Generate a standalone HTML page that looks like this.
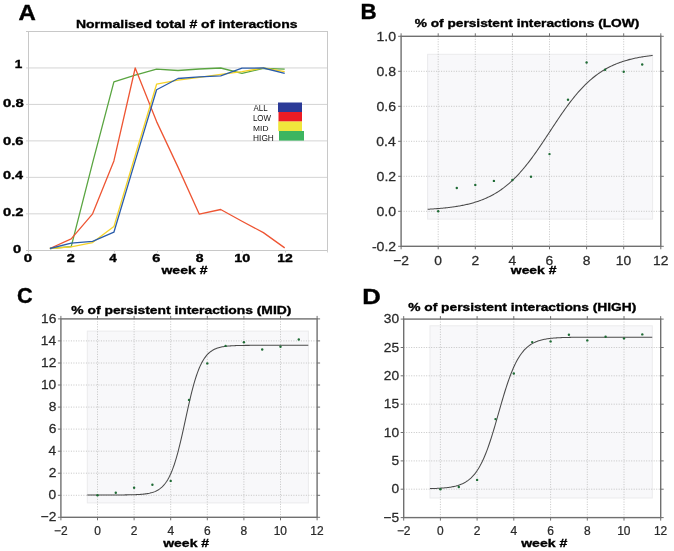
<!DOCTYPE html>
<html><head><meta charset="utf-8"><style>
html,body{margin:0;padding:0;background:#fff;}
svg{display:block;font-family:"Liberation Sans",sans-serif;will-change:transform;}
</style></head><body>
<svg width="674" height="551" viewBox="0 0 674 551">
<rect width="674" height="551" fill="#fff"/>
<g>
<line x1="26" y1="213.83" x2="327.5" y2="213.83" stroke="#d4d4d4" stroke-width="1"/>
<line x1="26" y1="177.36" x2="327.5" y2="177.36" stroke="#d4d4d4" stroke-width="1"/>
<line x1="26" y1="140.89" x2="327.5" y2="140.89" stroke="#d4d4d4" stroke-width="1"/>
<line x1="26" y1="104.42" x2="327.5" y2="104.42" stroke="#d4d4d4" stroke-width="1"/>
<line x1="26" y1="67.95" x2="327.5" y2="67.95" stroke="#d4d4d4" stroke-width="1"/>
<rect x="28.5" y="31.5" width="299.0" height="219.0" fill="none" stroke="#c8c8c8" stroke-width="1"/>
<line x1="26" y1="31.5" x2="28.5" y2="31.5" stroke="#c8c8c8" stroke-width="1"/>
<line x1="26" y1="250.5" x2="28.5" y2="250.5" stroke="#c8c8c8" stroke-width="1"/>
<line x1="28.5" y1="250.5" x2="28.5" y2="252.5" stroke="#d0d0d0" stroke-width="1"/>
<line x1="71.5" y1="250.5" x2="71.5" y2="252.5" stroke="#d0d0d0" stroke-width="1"/>
<line x1="114.5" y1="250.5" x2="114.5" y2="252.5" stroke="#d0d0d0" stroke-width="1"/>
<line x1="157.5" y1="250.5" x2="157.5" y2="252.5" stroke="#d0d0d0" stroke-width="1"/>
<line x1="199.5" y1="250.5" x2="199.5" y2="252.5" stroke="#d0d0d0" stroke-width="1"/>
<line x1="242.5" y1="250.5" x2="242.5" y2="252.5" stroke="#d0d0d0" stroke-width="1"/>
<line x1="285.5" y1="250.5" x2="285.5" y2="252.5" stroke="#d0d0d0" stroke-width="1"/>
<line x1="327.5" y1="250.5" x2="327.5" y2="252.5" stroke="#d0d0d0" stroke-width="1"/>
<polyline points="49.9,248.5 71.2,246.7 92.6,162.8 113.9,81.8 135.2,75.2 156.6,69.2 178.0,70.5 199.3,69.0 220.7,68.0 242.0,73.4 263.4,68.3 284.7,69.2" fill="none" stroke="#5aa541" stroke-width="1.3" stroke-linejoin="round"/>
<polyline points="49.9,248.5 71.2,238.8 92.6,213.8 113.9,160.9 135.2,68.0 156.6,121.6 178.0,167.1 199.3,214.2 220.7,209.5 242.0,221.3 263.4,232.6 284.7,247.9" fill="none" stroke="#ee5533" stroke-width="1.3" stroke-linejoin="round"/>
<polyline points="49.9,248.5 71.2,246.8 92.6,242.6 113.9,226.6 135.2,155.5 156.6,84.2 178.0,80.2 199.3,77.4 220.7,74.3 242.0,71.6 263.4,68.0 284.7,71.6" fill="none" stroke="#f5d328" stroke-width="1.3" stroke-linejoin="round"/>
<polyline points="49.9,248.5 71.2,243.2 92.6,241.4 113.9,232.2 135.2,160.9 156.6,89.8 178.0,78.5 199.3,76.9 220.7,75.8 242.0,68.1 263.4,68.0 284.7,73.4" fill="none" stroke="#2a5caa" stroke-width="1.3" stroke-linejoin="round"/>
<rect x="278" y="102.5" width="24" height="9.6" fill="#2b3a97"/>
<rect x="278.5" y="112" width="23.5" height="9.6" fill="#ec1c24"/>
<rect x="278.2" y="121.5" width="23.80000000000001" height="9.6" fill="#f0e63c"/>
<rect x="279" y="131" width="25" height="9.6" fill="#3db560"/>
<text transform="translate(253.48,110.80) scale(0.939,1)" font-size="8.44" fill="#111">ALL</text>
<text transform="translate(252.95,120.50) scale(0.954,1)" font-size="8.32" fill="#111">LOW</text>
<text transform="translate(253.11,130.50) scale(1.069,1)" font-size="7.85" fill="#111">MID</text>
<text transform="translate(253.11,140.70) scale(0.935,1)" font-size="8.89" fill="#111">HIGH</text>
<text transform="translate(14.65,67.70) scale(1.294,1)" font-size="10.47" font-weight="bold" fill="#000" stroke="#000" stroke-width="0.35">1</text>
<text transform="translate(3.00,106.80) scale(1.426,1)" font-size="10.47" font-weight="bold" fill="#000" stroke="#000" stroke-width="0.35">0.8</text>
<text transform="translate(3.01,145.40) scale(1.336,1)" font-size="11.04" font-weight="bold" fill="#000" stroke="#000" stroke-width="0.35">0.6</text>
<text transform="translate(3.02,179.00) scale(1.258,1)" font-size="11.47" font-weight="bold" fill="#000" stroke="#000" stroke-width="0.35">0.4</text>
<text transform="translate(3.01,216.00) scale(1.291,1)" font-size="11.47" font-weight="bold" fill="#000" stroke="#000" stroke-width="0.35">0.2</text>
<text transform="translate(13.01,253.00) scale(1.285,1)" font-size="11.47" font-weight="bold" fill="#000" stroke="#000" stroke-width="0.35">0</text>
<text transform="translate(23.75,262.00) scale(1.390,1)" font-size="10.75" font-weight="bold" fill="#000" stroke="#000" stroke-width="0.35">0</text>
<text transform="translate(66.69,262.00) scale(1.356,1)" font-size="10.75" font-weight="bold" fill="#000" stroke="#000" stroke-width="0.35">2</text>
<text transform="translate(109.30,262.00) scale(1.234,1)" font-size="10.91" font-weight="bold" fill="#000" stroke="#000" stroke-width="0.35">4</text>
<text transform="translate(152.36,262.00) scale(1.349,1)" font-size="10.75" font-weight="bold" fill="#000" stroke="#000" stroke-width="0.35">6</text>
<text transform="translate(195.69,262.00) scale(1.303,1)" font-size="10.75" font-weight="bold" fill="#000" stroke="#000" stroke-width="0.35">8</text>
<text transform="translate(234.35,262.00) scale(1.338,1)" font-size="10.75" font-weight="bold" fill="#000" stroke="#000" stroke-width="0.35">10</text>
<text transform="translate(277.28,262.00) scale(1.302,1)" font-size="10.75" font-weight="bold" fill="#000" stroke="#000" stroke-width="0.35">12</text>
<text transform="translate(161.44,273.70) scale(1.243,1)" font-size="11.30" font-weight="bold" fill="#000" stroke="#000" stroke-width="0.35">week #</text>
<text transform="translate(75.96,28.00) scale(1.233,1)" font-size="11.35" font-weight="bold" fill="#000" stroke="#000" stroke-width="0.35">Normalised total # of interactions</text>
<text transform="translate(18.50,20.20) scale(1.080,1)" font-size="22.25" font-weight="bold" fill="#000" stroke="#000" stroke-width="0.4">A</text>
</g>
<rect x="427.6" y="54.3" width="225.0" height="164.8" fill="#f8f8fa" stroke="#ebebed" stroke-width="1"/>
<line x1="438.2" y1="36.3" x2="438.2" y2="246.3" stroke="#bebebe" stroke-width="0.9" stroke-dasharray="1 1.5"/>
<line x1="475.3" y1="36.3" x2="475.3" y2="246.3" stroke="#bebebe" stroke-width="0.9" stroke-dasharray="1 1.5"/>
<line x1="512.4" y1="36.3" x2="512.4" y2="246.3" stroke="#bebebe" stroke-width="0.9" stroke-dasharray="1 1.5"/>
<line x1="549.5" y1="36.3" x2="549.5" y2="246.3" stroke="#bebebe" stroke-width="0.9" stroke-dasharray="1 1.5"/>
<line x1="586.6" y1="36.3" x2="586.6" y2="246.3" stroke="#bebebe" stroke-width="0.9" stroke-dasharray="1 1.5"/>
<line x1="623.7" y1="36.3" x2="623.7" y2="246.3" stroke="#bebebe" stroke-width="0.9" stroke-dasharray="1 1.5"/>
<line x1="401.1" y1="211.3" x2="660.8" y2="211.3" stroke="#bebebe" stroke-width="0.9" stroke-dasharray="1 1.5"/>
<line x1="401.1" y1="176.3" x2="660.8" y2="176.3" stroke="#bebebe" stroke-width="0.9" stroke-dasharray="1 1.5"/>
<line x1="401.1" y1="141.3" x2="660.8" y2="141.3" stroke="#bebebe" stroke-width="0.9" stroke-dasharray="1 1.5"/>
<line x1="401.1" y1="106.3" x2="660.8" y2="106.3" stroke="#bebebe" stroke-width="0.9" stroke-dasharray="1 1.5"/>
<line x1="401.1" y1="71.3" x2="660.8" y2="71.3" stroke="#bebebe" stroke-width="0.9" stroke-dasharray="1 1.5"/>
<polyline points="427.63,209.25 428.57,209.20 429.51,209.15 430.45,209.09 431.39,209.03 432.33,208.97 433.28,208.91 434.22,208.85 435.16,208.78 436.10,208.71 437.04,208.64 437.98,208.57 438.92,208.49 439.87,208.41 440.81,208.33 441.75,208.24 442.69,208.15 443.63,208.06 444.57,207.97 445.51,207.87 446.46,207.77 447.40,207.66 448.34,207.56 449.28,207.44 450.22,207.33 451.16,207.21 452.10,207.08 453.05,206.95 453.99,206.82 454.93,206.68 455.87,206.54 456.81,206.39 457.75,206.23 458.70,206.07 459.64,205.91 460.58,205.74 461.52,205.56 462.46,205.38 463.40,205.19 464.34,205.00 465.29,204.80 466.23,204.59 467.17,204.37 468.11,204.15 469.05,203.92 469.99,203.68 470.93,203.44 471.88,203.18 472.82,202.92 473.76,202.65 474.70,202.37 475.64,202.08 476.58,201.78 477.52,201.47 478.47,201.15 479.41,200.82 480.35,200.48 481.29,200.13 482.23,199.77 483.17,199.39 484.11,199.01 485.06,198.61 486.00,198.20 486.94,197.78 487.88,197.34 488.82,196.89 489.76,196.43 490.71,195.95 491.65,195.46 492.59,194.96 493.53,194.44 494.47,193.90 495.41,193.35 496.35,192.78 497.30,192.20 498.24,191.60 499.18,190.99 500.12,190.35 501.06,189.70 502.00,189.03 502.94,188.35 503.89,187.65 504.83,186.92 505.77,186.18 506.71,185.42 507.65,184.64 508.59,183.85 509.53,183.03 510.48,182.19 511.42,181.34 512.36,180.46 513.30,179.57 514.24,178.65 515.18,177.72 516.12,176.76 517.07,175.78 518.01,174.79 518.95,173.77 519.89,172.74 520.83,171.68 521.77,170.61 522.72,169.52 523.66,168.40 524.60,167.27 525.54,166.12 526.48,164.95 527.42,163.76 528.36,162.56 529.31,161.34 530.25,160.10 531.19,158.85 532.13,157.57 533.07,156.29 534.01,154.99 534.95,153.67 535.90,152.35 536.84,151.01 537.78,149.65 538.72,148.29 539.66,146.91 540.60,145.53 541.54,144.14 542.49,142.74 543.43,141.33 544.37,139.91 545.31,138.49 546.25,137.07 547.19,135.64 548.13,134.21 549.08,132.78 550.02,131.35 550.96,129.91 551.90,128.48 552.84,127.05 553.78,125.63 554.73,124.20 555.67,122.78 556.61,121.37 557.55,119.97 558.49,118.57 559.43,117.18 560.37,115.80 561.32,114.42 562.26,113.06 563.20,111.72 564.14,110.38 565.08,109.05 566.02,107.74 566.96,106.45 567.91,105.17 568.85,103.90 569.79,102.65 570.73,101.42 571.67,100.20 572.61,99.00 573.55,97.82 574.50,96.66 575.44,95.51 576.38,94.39 577.32,93.28 578.26,92.19 579.20,91.13 580.14,90.08 581.09,89.05 582.03,88.04 582.97,87.05 583.91,86.08 584.85,85.13 585.79,84.20 586.74,83.29 587.68,82.40 588.62,81.53 589.56,80.68 590.50,79.85 591.44,79.04 592.38,78.25 593.33,77.48 594.27,76.72 595.21,75.99 596.15,75.27 597.09,74.58 598.03,73.90 598.97,73.23 599.92,72.59 600.86,71.96 601.80,71.35 602.74,70.75 603.68,70.18 604.62,69.62 605.56,69.07 606.51,68.54 607.45,68.02 608.39,67.52 609.33,67.04 610.27,66.56 611.21,66.10 612.15,65.66 613.10,65.23 614.04,64.81 614.98,64.40 615.92,64.01 616.86,63.63 617.80,63.26 618.75,62.90 619.69,62.55 620.63,62.22 621.57,61.89 622.51,61.57 623.45,61.27 624.39,60.97 625.34,60.68 626.28,60.41 627.22,60.14 628.16,59.88 629.10,59.63 630.04,59.38 630.98,59.15 631.93,58.92 632.87,58.70 633.81,58.49 634.75,58.28 635.69,58.08 636.63,57.89 637.57,57.70 638.52,57.52 639.46,57.35 640.40,57.18 641.34,57.01 642.28,56.86 643.22,56.71 644.16,56.56 645.11,56.42 646.05,56.28 646.99,56.15 647.93,56.02 648.87,55.90 649.81,55.78 650.76,55.66 651.70,55.55 652.64,55.44" fill="none" stroke="#4a4a4a" stroke-width="1.05"/>
<circle cx="438.2" cy="211.3" r="1.2" fill="#1f6b35"/>
<circle cx="456.8" cy="188.0" r="1.2" fill="#1f6b35"/>
<circle cx="475.3" cy="184.9" r="1.2" fill="#1f6b35"/>
<circle cx="493.9" cy="180.9" r="1.2" fill="#1f6b35"/>
<circle cx="512.4" cy="180.0" r="1.2" fill="#1f6b35"/>
<circle cx="531.0" cy="176.7" r="1.2" fill="#1f6b35"/>
<circle cx="549.5" cy="154.1" r="1.2" fill="#1f6b35"/>
<circle cx="568.0" cy="99.8" r="1.2" fill="#1f6b35"/>
<circle cx="586.6" cy="62.5" r="1.2" fill="#1f6b35"/>
<circle cx="605.1" cy="69.7" r="1.2" fill="#1f6b35"/>
<circle cx="623.7" cy="71.8" r="1.2" fill="#1f6b35"/>
<circle cx="642.2" cy="64.5" r="1.2" fill="#1f6b35"/>
<rect x="401.1" y="36.3" width="259.7" height="210.0" fill="none" stroke="#707070" stroke-width="1.4"/>
<line x1="401.1" y1="246.3" x2="401.1" y2="249.3" stroke="#707070" stroke-width="1"/>
<line x1="401.1" y1="36.3" x2="401.1" y2="33.3" stroke="#707070" stroke-width="1"/>
<line x1="438.2" y1="246.3" x2="438.2" y2="249.3" stroke="#707070" stroke-width="1"/>
<line x1="438.2" y1="36.3" x2="438.2" y2="33.3" stroke="#707070" stroke-width="1"/>
<line x1="475.3" y1="246.3" x2="475.3" y2="249.3" stroke="#707070" stroke-width="1"/>
<line x1="475.3" y1="36.3" x2="475.3" y2="33.3" stroke="#707070" stroke-width="1"/>
<line x1="512.4" y1="246.3" x2="512.4" y2="249.3" stroke="#707070" stroke-width="1"/>
<line x1="512.4" y1="36.3" x2="512.4" y2="33.3" stroke="#707070" stroke-width="1"/>
<line x1="549.5" y1="246.3" x2="549.5" y2="249.3" stroke="#707070" stroke-width="1"/>
<line x1="549.5" y1="36.3" x2="549.5" y2="33.3" stroke="#707070" stroke-width="1"/>
<line x1="586.6" y1="246.3" x2="586.6" y2="249.3" stroke="#707070" stroke-width="1"/>
<line x1="586.6" y1="36.3" x2="586.6" y2="33.3" stroke="#707070" stroke-width="1"/>
<line x1="623.7" y1="246.3" x2="623.7" y2="249.3" stroke="#707070" stroke-width="1"/>
<line x1="623.7" y1="36.3" x2="623.7" y2="33.3" stroke="#707070" stroke-width="1"/>
<line x1="660.8" y1="246.3" x2="660.8" y2="249.3" stroke="#707070" stroke-width="1"/>
<line x1="660.8" y1="36.3" x2="660.8" y2="33.3" stroke="#707070" stroke-width="1"/>
<line x1="401.1" y1="246.3" x2="398.1" y2="246.3" stroke="#707070" stroke-width="1"/>
<line x1="660.8" y1="246.3" x2="663.8" y2="246.3" stroke="#707070" stroke-width="1"/>
<line x1="401.1" y1="211.3" x2="398.1" y2="211.3" stroke="#707070" stroke-width="1"/>
<line x1="660.8" y1="211.3" x2="663.8" y2="211.3" stroke="#707070" stroke-width="1"/>
<line x1="401.1" y1="176.3" x2="398.1" y2="176.3" stroke="#707070" stroke-width="1"/>
<line x1="660.8" y1="176.3" x2="663.8" y2="176.3" stroke="#707070" stroke-width="1"/>
<line x1="401.1" y1="141.3" x2="398.1" y2="141.3" stroke="#707070" stroke-width="1"/>
<line x1="660.8" y1="141.3" x2="663.8" y2="141.3" stroke="#707070" stroke-width="1"/>
<line x1="401.1" y1="106.3" x2="398.1" y2="106.3" stroke="#707070" stroke-width="1"/>
<line x1="660.8" y1="106.3" x2="663.8" y2="106.3" stroke="#707070" stroke-width="1"/>
<line x1="401.1" y1="71.3" x2="398.1" y2="71.3" stroke="#707070" stroke-width="1"/>
<line x1="660.8" y1="71.3" x2="663.8" y2="71.3" stroke="#707070" stroke-width="1"/>
<line x1="401.1" y1="36.3" x2="398.1" y2="36.3" stroke="#707070" stroke-width="1"/>
<line x1="660.8" y1="36.3" x2="663.8" y2="36.3" stroke="#707070" stroke-width="1"/>
<text transform="translate(371.92,250.80) scale(1.060,1)" font-size="13.30" fill="#2a2a2a" stroke="#2a2a2a" stroke-width="0.25">-0.2</text>
<text transform="translate(376.43,215.80) scale(1.060,1)" font-size="13.30" fill="#2a2a2a" stroke="#2a2a2a" stroke-width="0.25">0.0</text>
<text transform="translate(376.61,180.80) scale(1.060,1)" font-size="13.30" fill="#2a2a2a" stroke="#2a2a2a" stroke-width="0.25">0.2</text>
<text transform="translate(376.29,145.80) scale(1.060,1)" font-size="13.30" fill="#2a2a2a" stroke="#2a2a2a" stroke-width="0.25">0.4</text>
<text transform="translate(376.50,110.80) scale(1.060,1)" font-size="13.30" fill="#2a2a2a" stroke="#2a2a2a" stroke-width="0.25">0.6</text>
<text transform="translate(376.50,75.80) scale(1.060,1)" font-size="13.30" fill="#2a2a2a" stroke="#2a2a2a" stroke-width="0.25">0.8</text>
<text transform="translate(376.43,40.80) scale(1.060,1)" font-size="13.30" fill="#2a2a2a" stroke="#2a2a2a" stroke-width="0.25">1.0</text>
<text transform="translate(393.22,265.10) scale(1.080,1)" font-size="12.80" fill="#2a2a2a" stroke="#2a2a2a" stroke-width="0.25">−2</text>
<text transform="translate(434.35,265.10) scale(1.080,1)" font-size="12.80" fill="#2a2a2a" stroke="#2a2a2a" stroke-width="0.25">0</text>
<text transform="translate(471.46,265.10) scale(1.080,1)" font-size="12.80" fill="#2a2a2a" stroke="#2a2a2a" stroke-width="0.25">2</text>
<text transform="translate(508.60,265.10) scale(1.080,1)" font-size="12.80" fill="#2a2a2a" stroke="#2a2a2a" stroke-width="0.25">4</text>
<text transform="translate(545.61,265.10) scale(1.080,1)" font-size="12.80" fill="#2a2a2a" stroke="#2a2a2a" stroke-width="0.25">6</text>
<text transform="translate(582.76,265.10) scale(1.080,1)" font-size="12.80" fill="#2a2a2a" stroke="#2a2a2a" stroke-width="0.25">8</text>
<text transform="translate(615.77,265.10) scale(1.080,1)" font-size="12.80" fill="#2a2a2a" stroke="#2a2a2a" stroke-width="0.25">10</text>
<text transform="translate(652.95,265.10) scale(1.080,1)" font-size="12.80" fill="#2a2a2a" stroke="#2a2a2a" stroke-width="0.25">12</text>
<text transform="translate(510.83,273.60) scale(1.232,1)" font-size="11.30" font-weight="bold" fill="#000" stroke="#000" stroke-width="0.35">week #</text>
<text transform="translate(414.66,26.90) scale(1.183,1)" font-size="11.60" font-weight="bold" fill="#000" stroke="#000" stroke-width="0.35">% of persistent interactions (LOW)</text>
<text transform="translate(360.50,19.30) scale(1.015,1)" font-size="21.96" font-weight="bold" fill="#000" stroke="#000" stroke-width="0.4">B</text>
<rect x="87.3" y="331.1" width="221.1" height="171.8" fill="#f8f8fa" stroke="#ebebed" stroke-width="1"/>
<line x1="97.5" y1="318.9" x2="97.5" y2="517.3" stroke="#bebebe" stroke-width="0.9" stroke-dasharray="1 1.5"/>
<line x1="134.1" y1="318.9" x2="134.1" y2="517.3" stroke="#bebebe" stroke-width="0.9" stroke-dasharray="1 1.5"/>
<line x1="170.7" y1="318.9" x2="170.7" y2="517.3" stroke="#bebebe" stroke-width="0.9" stroke-dasharray="1 1.5"/>
<line x1="207.3" y1="318.9" x2="207.3" y2="517.3" stroke="#bebebe" stroke-width="0.9" stroke-dasharray="1 1.5"/>
<line x1="243.9" y1="318.9" x2="243.9" y2="517.3" stroke="#bebebe" stroke-width="0.9" stroke-dasharray="1 1.5"/>
<line x1="280.5" y1="318.9" x2="280.5" y2="517.3" stroke="#bebebe" stroke-width="0.9" stroke-dasharray="1 1.5"/>
<line x1="60.9" y1="495.3" x2="317.1" y2="495.3" stroke="#bebebe" stroke-width="0.9" stroke-dasharray="1 1.5"/>
<line x1="60.9" y1="473.2" x2="317.1" y2="473.2" stroke="#bebebe" stroke-width="0.9" stroke-dasharray="1 1.5"/>
<line x1="60.9" y1="451.2" x2="317.1" y2="451.2" stroke="#bebebe" stroke-width="0.9" stroke-dasharray="1 1.5"/>
<line x1="60.9" y1="429.1" x2="317.1" y2="429.1" stroke="#bebebe" stroke-width="0.9" stroke-dasharray="1 1.5"/>
<line x1="60.9" y1="407.1" x2="317.1" y2="407.1" stroke="#bebebe" stroke-width="0.9" stroke-dasharray="1 1.5"/>
<line x1="60.9" y1="385.0" x2="317.1" y2="385.0" stroke="#bebebe" stroke-width="0.9" stroke-dasharray="1 1.5"/>
<line x1="60.9" y1="363.0" x2="317.1" y2="363.0" stroke="#bebebe" stroke-width="0.9" stroke-dasharray="1 1.5"/>
<line x1="60.9" y1="340.9" x2="317.1" y2="340.9" stroke="#bebebe" stroke-width="0.9" stroke-dasharray="1 1.5"/>
<polyline points="87.25,494.98 88.18,494.98 89.10,494.98 90.03,494.98 90.95,494.98 91.88,494.98 92.80,494.98 93.73,494.98 94.65,494.98 95.58,494.98 96.50,494.98 97.43,494.98 98.35,494.98 99.28,494.98 100.20,494.98 101.13,494.98 102.05,494.97 102.98,494.97 103.90,494.97 104.83,494.97 105.75,494.97 106.68,494.97 107.60,494.97 108.53,494.97 109.45,494.97 110.38,494.97 111.30,494.96 112.23,494.96 113.15,494.96 114.08,494.96 115.00,494.95 115.93,494.95 116.85,494.95 117.78,494.94 118.70,494.94 119.63,494.94 120.55,494.93 121.48,494.92 122.40,494.92 123.33,494.91 124.25,494.90 125.18,494.89 126.10,494.88 127.03,494.87 127.95,494.85 128.87,494.84 129.80,494.82 130.72,494.80 131.65,494.78 132.57,494.76 133.50,494.73 134.42,494.70 135.35,494.67 136.27,494.63 137.20,494.59 138.12,494.54 139.05,494.49 139.97,494.43 140.90,494.36 141.82,494.29 142.75,494.20 143.67,494.11 144.60,494.01 145.52,493.89 146.45,493.76 147.37,493.61 148.30,493.45 149.22,493.27 150.15,493.06 151.07,492.83 152.00,492.58 152.92,492.29 153.85,491.97 154.77,491.62 155.70,491.22 156.62,490.78 157.55,490.29 158.47,489.74 159.40,489.13 160.32,488.45 161.25,487.70 162.17,486.87 163.10,485.95 164.02,484.93 164.95,483.80 165.87,482.57 166.80,481.20 167.72,479.71 168.65,478.07 169.57,476.28 170.50,474.33 171.42,472.21 172.35,469.92 173.27,467.44 174.20,464.78 175.12,461.94 176.05,458.90 176.97,455.69 177.90,452.29 178.82,448.72 179.75,444.99 180.67,441.12 181.60,437.13 182.52,433.03 183.45,428.84 184.37,424.60 185.30,420.34 186.22,416.07 187.15,411.83 188.07,407.64 189.00,403.53 189.92,399.52 190.85,395.64 191.77,391.90 192.70,388.31 193.62,384.90 194.55,381.67 195.47,378.61 196.40,375.75 197.32,373.08 198.25,370.58 199.17,368.27 200.10,366.14 201.02,364.18 201.95,362.37 202.87,360.72 203.80,359.21 204.72,357.83 205.65,356.58 206.57,355.45 207.50,354.42 208.42,353.49 209.35,352.65 210.27,351.89 211.20,351.21 212.12,350.59 213.05,350.04 213.97,349.54 214.90,349.10 215.82,348.70 216.75,348.34 217.67,348.01 218.60,347.73 219.52,347.47 220.45,347.24 221.37,347.03 222.30,346.85 223.22,346.68 224.15,346.53 225.07,346.40 226.00,346.28 226.92,346.18 227.85,346.08 228.77,346.00 229.69,345.92 230.62,345.86 231.54,345.80 232.47,345.74 233.39,345.69 234.32,345.65 235.24,345.61 236.17,345.58 237.09,345.55 238.02,345.52 238.94,345.50 239.87,345.48 240.79,345.46 241.72,345.44 242.64,345.42 243.57,345.41 244.49,345.40 245.42,345.39 246.34,345.38 247.27,345.37 248.19,345.36 249.12,345.36 250.04,345.35 250.97,345.34 251.89,345.34 252.82,345.33 253.74,345.33 254.67,345.33 255.59,345.32 256.52,345.32 257.44,345.32 258.37,345.32 259.29,345.31 260.22,345.31 261.14,345.31 262.07,345.31 262.99,345.31 263.92,345.31 264.84,345.31 265.77,345.31 266.69,345.30 267.62,345.30 268.54,345.30 269.47,345.30 270.39,345.30 271.32,345.30 272.24,345.30 273.17,345.30 274.09,345.30 275.02,345.30 275.94,345.30 276.87,345.30 277.79,345.30 278.72,345.30 279.64,345.30 280.57,345.30 281.49,345.30 282.42,345.30 283.34,345.30 284.27,345.30 285.19,345.30 286.12,345.30 287.04,345.30 287.97,345.30 288.89,345.30 289.82,345.30 290.74,345.30 291.67,345.30 292.59,345.30 293.52,345.30 294.44,345.30 295.37,345.30 296.29,345.30 297.22,345.30 298.14,345.30 299.07,345.30 299.99,345.30 300.92,345.30 301.84,345.30 302.77,345.30 303.69,345.30 304.62,345.30 305.54,345.30 306.47,345.30 307.39,345.30 308.32,345.30" fill="none" stroke="#4a4a4a" stroke-width="1.05"/>
<circle cx="97.5" cy="495.3" r="1.2" fill="#1f6b35"/>
<circle cx="115.8" cy="492.8" r="1.2" fill="#1f6b35"/>
<circle cx="134.1" cy="487.7" r="1.2" fill="#1f6b35"/>
<circle cx="152.4" cy="484.8" r="1.2" fill="#1f6b35"/>
<circle cx="170.7" cy="480.9" r="1.2" fill="#1f6b35"/>
<circle cx="189.0" cy="399.9" r="1.2" fill="#1f6b35"/>
<circle cx="207.3" cy="363.4" r="1.2" fill="#1f6b35"/>
<circle cx="225.6" cy="345.9" r="1.2" fill="#1f6b35"/>
<circle cx="243.9" cy="342.3" r="1.2" fill="#1f6b35"/>
<circle cx="262.2" cy="349.5" r="1.2" fill="#1f6b35"/>
<circle cx="280.5" cy="346.7" r="1.2" fill="#1f6b35"/>
<circle cx="298.8" cy="339.5" r="1.2" fill="#1f6b35"/>
<rect x="60.9" y="318.9" width="256.2" height="198.4" fill="none" stroke="#707070" stroke-width="1.4"/>
<line x1="60.9" y1="517.3" x2="60.9" y2="520.3" stroke="#707070" stroke-width="1"/>
<line x1="60.9" y1="318.9" x2="60.9" y2="315.9" stroke="#707070" stroke-width="1"/>
<line x1="97.5" y1="517.3" x2="97.5" y2="520.3" stroke="#707070" stroke-width="1"/>
<line x1="97.5" y1="318.9" x2="97.5" y2="315.9" stroke="#707070" stroke-width="1"/>
<line x1="134.1" y1="517.3" x2="134.1" y2="520.3" stroke="#707070" stroke-width="1"/>
<line x1="134.1" y1="318.9" x2="134.1" y2="315.9" stroke="#707070" stroke-width="1"/>
<line x1="170.7" y1="517.3" x2="170.7" y2="520.3" stroke="#707070" stroke-width="1"/>
<line x1="170.7" y1="318.9" x2="170.7" y2="315.9" stroke="#707070" stroke-width="1"/>
<line x1="207.3" y1="517.3" x2="207.3" y2="520.3" stroke="#707070" stroke-width="1"/>
<line x1="207.3" y1="318.9" x2="207.3" y2="315.9" stroke="#707070" stroke-width="1"/>
<line x1="243.9" y1="517.3" x2="243.9" y2="520.3" stroke="#707070" stroke-width="1"/>
<line x1="243.9" y1="318.9" x2="243.9" y2="315.9" stroke="#707070" stroke-width="1"/>
<line x1="280.5" y1="517.3" x2="280.5" y2="520.3" stroke="#707070" stroke-width="1"/>
<line x1="280.5" y1="318.9" x2="280.5" y2="315.9" stroke="#707070" stroke-width="1"/>
<line x1="317.1" y1="517.3" x2="317.1" y2="520.3" stroke="#707070" stroke-width="1"/>
<line x1="317.1" y1="318.9" x2="317.1" y2="315.9" stroke="#707070" stroke-width="1"/>
<line x1="60.9" y1="517.3" x2="57.9" y2="517.3" stroke="#707070" stroke-width="1"/>
<line x1="317.1" y1="517.3" x2="320.1" y2="517.3" stroke="#707070" stroke-width="1"/>
<line x1="60.9" y1="495.3" x2="57.9" y2="495.3" stroke="#707070" stroke-width="1"/>
<line x1="317.1" y1="495.3" x2="320.1" y2="495.3" stroke="#707070" stroke-width="1"/>
<line x1="60.9" y1="473.2" x2="57.9" y2="473.2" stroke="#707070" stroke-width="1"/>
<line x1="317.1" y1="473.2" x2="320.1" y2="473.2" stroke="#707070" stroke-width="1"/>
<line x1="60.9" y1="451.2" x2="57.9" y2="451.2" stroke="#707070" stroke-width="1"/>
<line x1="317.1" y1="451.2" x2="320.1" y2="451.2" stroke="#707070" stroke-width="1"/>
<line x1="60.9" y1="429.1" x2="57.9" y2="429.1" stroke="#707070" stroke-width="1"/>
<line x1="317.1" y1="429.1" x2="320.1" y2="429.1" stroke="#707070" stroke-width="1"/>
<line x1="60.9" y1="407.1" x2="57.9" y2="407.1" stroke="#707070" stroke-width="1"/>
<line x1="317.1" y1="407.1" x2="320.1" y2="407.1" stroke="#707070" stroke-width="1"/>
<line x1="60.9" y1="385.0" x2="57.9" y2="385.0" stroke="#707070" stroke-width="1"/>
<line x1="317.1" y1="385.0" x2="320.1" y2="385.0" stroke="#707070" stroke-width="1"/>
<line x1="60.9" y1="363.0" x2="57.9" y2="363.0" stroke="#707070" stroke-width="1"/>
<line x1="317.1" y1="363.0" x2="320.1" y2="363.0" stroke="#707070" stroke-width="1"/>
<line x1="60.9" y1="340.9" x2="57.9" y2="340.9" stroke="#707070" stroke-width="1"/>
<line x1="317.1" y1="340.9" x2="320.1" y2="340.9" stroke="#707070" stroke-width="1"/>
<line x1="60.9" y1="318.9" x2="57.9" y2="318.9" stroke="#707070" stroke-width="1"/>
<line x1="317.1" y1="318.9" x2="320.1" y2="318.9" stroke="#707070" stroke-width="1"/>
<text transform="translate(40.68,521.40) scale(1.060,1)" font-size="13.00" fill="#2a2a2a" stroke="#2a2a2a" stroke-width="0.25">−2</text>
<text transform="translate(48.57,499.36) scale(1.060,1)" font-size="13.00" fill="#2a2a2a" stroke="#2a2a2a" stroke-width="0.25">0</text>
<text transform="translate(48.74,477.31) scale(1.060,1)" font-size="13.00" fill="#2a2a2a" stroke="#2a2a2a" stroke-width="0.25">2</text>
<text transform="translate(48.43,455.27) scale(1.060,1)" font-size="13.00" fill="#2a2a2a" stroke="#2a2a2a" stroke-width="0.25">4</text>
<text transform="translate(48.64,433.22) scale(1.060,1)" font-size="13.00" fill="#2a2a2a" stroke="#2a2a2a" stroke-width="0.25">6</text>
<text transform="translate(48.64,411.18) scale(1.060,1)" font-size="13.00" fill="#2a2a2a" stroke="#2a2a2a" stroke-width="0.25">8</text>
<text transform="translate(40.92,389.13) scale(1.060,1)" font-size="13.00" fill="#2a2a2a" stroke="#2a2a2a" stroke-width="0.25">10</text>
<text transform="translate(41.09,367.09) scale(1.060,1)" font-size="13.00" fill="#2a2a2a" stroke="#2a2a2a" stroke-width="0.25">12</text>
<text transform="translate(40.78,345.04) scale(1.060,1)" font-size="13.00" fill="#2a2a2a" stroke="#2a2a2a" stroke-width="0.25">14</text>
<text transform="translate(40.99,323.00) scale(1.060,1)" font-size="13.00" fill="#2a2a2a" stroke="#2a2a2a" stroke-width="0.25">16</text>
<text transform="translate(54.09,534.70) scale(0.980,1)" font-size="12.20" fill="#2a2a2a" stroke="#2a2a2a" stroke-width="0.25">−2</text>
<text transform="translate(94.17,534.70) scale(0.980,1)" font-size="12.20" fill="#2a2a2a" stroke="#2a2a2a" stroke-width="0.25">0</text>
<text transform="translate(130.78,534.70) scale(0.980,1)" font-size="12.20" fill="#2a2a2a" stroke="#2a2a2a" stroke-width="0.25">2</text>
<text transform="translate(167.41,534.70) scale(0.980,1)" font-size="12.20" fill="#2a2a2a" stroke="#2a2a2a" stroke-width="0.25">4</text>
<text transform="translate(203.94,534.70) scale(0.980,1)" font-size="12.20" fill="#2a2a2a" stroke="#2a2a2a" stroke-width="0.25">6</text>
<text transform="translate(240.58,534.70) scale(0.980,1)" font-size="12.20" fill="#2a2a2a" stroke="#2a2a2a" stroke-width="0.25">8</text>
<text transform="translate(273.64,534.70) scale(0.980,1)" font-size="12.20" fill="#2a2a2a" stroke="#2a2a2a" stroke-width="0.25">10</text>
<text transform="translate(310.31,534.70) scale(0.980,1)" font-size="12.20" fill="#2a2a2a" stroke="#2a2a2a" stroke-width="0.25">12</text>
<text transform="translate(163.14,546.70) scale(1.243,1)" font-size="11.30" font-weight="bold" fill="#000" stroke="#000" stroke-width="0.35">week #</text>
<text transform="translate(71.35,313.50) scale(1.195,1)" font-size="11.60" font-weight="bold" fill="#000" stroke="#000" stroke-width="0.35">% of persistent interactions (MID)</text>
<text transform="translate(16.93,303.10) scale(1.001,1)" font-size="21.65" font-weight="bold" fill="#000" stroke="#000" stroke-width="0.4">C</text>
<rect x="430.0" y="325.8" width="222.3" height="172.2" fill="#f8f8fa" stroke="#ebebed" stroke-width="1"/>
<line x1="440.4" y1="319.1" x2="440.4" y2="517.6" stroke="#bebebe" stroke-width="0.9" stroke-dasharray="1 1.5"/>
<line x1="477.1" y1="319.1" x2="477.1" y2="517.6" stroke="#bebebe" stroke-width="0.9" stroke-dasharray="1 1.5"/>
<line x1="513.8" y1="319.1" x2="513.8" y2="517.6" stroke="#bebebe" stroke-width="0.9" stroke-dasharray="1 1.5"/>
<line x1="550.6" y1="319.1" x2="550.6" y2="517.6" stroke="#bebebe" stroke-width="0.9" stroke-dasharray="1 1.5"/>
<line x1="587.3" y1="319.1" x2="587.3" y2="517.6" stroke="#bebebe" stroke-width="0.9" stroke-dasharray="1 1.5"/>
<line x1="624.0" y1="319.1" x2="624.0" y2="517.6" stroke="#bebebe" stroke-width="0.9" stroke-dasharray="1 1.5"/>
<line x1="403.7" y1="489.2" x2="660.7" y2="489.2" stroke="#bebebe" stroke-width="0.9" stroke-dasharray="1 1.5"/>
<line x1="403.7" y1="460.9" x2="660.7" y2="460.9" stroke="#bebebe" stroke-width="0.9" stroke-dasharray="1 1.5"/>
<line x1="403.7" y1="432.5" x2="660.7" y2="432.5" stroke="#bebebe" stroke-width="0.9" stroke-dasharray="1 1.5"/>
<line x1="403.7" y1="404.2" x2="660.7" y2="404.2" stroke="#bebebe" stroke-width="0.9" stroke-dasharray="1 1.5"/>
<line x1="403.7" y1="375.8" x2="660.7" y2="375.8" stroke="#bebebe" stroke-width="0.9" stroke-dasharray="1 1.5"/>
<line x1="403.7" y1="347.5" x2="660.7" y2="347.5" stroke="#bebebe" stroke-width="0.9" stroke-dasharray="1 1.5"/>
<polyline points="429.95,488.61 430.88,488.59 431.81,488.56 432.74,488.53 433.67,488.50 434.60,488.47 435.53,488.43 436.46,488.40 437.39,488.35 438.32,488.31 439.25,488.25 440.18,488.20 441.11,488.14 442.04,488.07 442.97,488.00 443.90,487.92 444.83,487.84 445.76,487.75 446.69,487.65 447.62,487.54 448.55,487.42 449.48,487.29 450.41,487.15 451.34,486.99 452.27,486.82 453.20,486.64 454.13,486.45 455.06,486.23 455.99,486.00 456.92,485.74 457.86,485.47 458.79,485.17 459.72,484.85 460.65,484.49 461.58,484.11 462.51,483.70 463.44,483.25 464.37,482.76 465.30,482.24 466.23,481.67 467.16,481.06 468.09,480.39 469.02,479.67 469.95,478.90 470.88,478.07 471.81,477.17 472.74,476.21 473.67,475.17 474.60,474.06 475.53,472.86 476.46,471.59 477.39,470.22 478.32,468.77 479.25,467.22 480.18,465.57 481.11,463.82 482.04,461.97 482.97,460.01 483.90,457.94 484.83,455.76 485.76,453.48 486.69,451.09 487.62,448.59 488.55,445.99 489.48,443.29 490.41,440.50 491.34,437.62 492.27,434.66 493.20,431.62 494.13,428.52 495.06,425.36 495.99,422.16 496.92,418.93 497.85,415.67 498.78,412.40 499.71,409.14 500.64,405.89 501.57,402.67 502.50,399.48 503.43,396.35 504.36,393.27 505.29,390.26 506.22,387.32 507.15,384.48 508.08,381.72 509.01,379.06 509.94,376.49 510.87,374.04 511.80,371.69 512.73,369.44 513.66,367.31 514.59,365.28 515.52,363.36 516.45,361.55 517.38,359.84 518.31,358.22 519.24,356.71 520.17,355.29 521.11,353.96 522.04,352.71 522.97,351.55 523.90,350.47 524.83,349.46 525.76,348.52 526.69,347.65 527.62,346.84 528.55,346.09 529.48,345.39 530.41,344.75 531.34,344.15 532.27,343.60 533.20,343.09 534.13,342.62 535.06,342.18 535.99,341.78 536.92,341.41 537.85,341.07 538.78,340.75 539.71,340.46 540.64,340.20 541.57,339.95 542.50,339.72 543.43,339.52 544.36,339.32 545.29,339.15 546.22,338.99 547.15,338.84 548.08,338.70 549.01,338.58 549.94,338.46 550.87,338.35 551.80,338.26 552.73,338.17 553.66,338.08 554.59,338.01 555.52,337.94 556.45,337.88 557.38,337.82 558.31,337.76 559.24,337.71 560.17,337.67 561.10,337.63 562.03,337.59 562.96,337.55 563.89,337.52 564.82,337.49 565.75,337.47 566.68,337.44 567.61,337.42 568.54,337.40 569.47,337.38 570.40,337.36 571.33,337.34 572.26,337.33 573.19,337.32 574.12,337.30 575.05,337.29 575.98,337.28 576.91,337.27 577.84,337.26 578.77,337.25 579.70,337.25 580.63,337.24 581.56,337.23 582.49,337.23 583.42,337.22 584.36,337.22 585.29,337.21 586.22,337.21 587.15,337.21 588.08,337.20 589.01,337.20 589.94,337.20 590.87,337.19 591.80,337.19 592.73,337.19 593.66,337.19 594.59,337.18 595.52,337.18 596.45,337.18 597.38,337.18 598.31,337.18 599.24,337.18 600.17,337.18 601.10,337.17 602.03,337.17 602.96,337.17 603.89,337.17 604.82,337.17 605.75,337.17 606.68,337.17 607.61,337.17 608.54,337.17 609.47,337.17 610.40,337.17 611.33,337.17 612.26,337.17 613.19,337.17 614.12,337.17 615.05,337.17 615.98,337.17 616.91,337.17 617.84,337.17 618.77,337.17 619.70,337.17 620.63,337.17 621.56,337.17 622.49,337.17 623.42,337.16 624.35,337.16 625.28,337.16 626.21,337.16 627.14,337.16 628.07,337.16 629.00,337.16 629.93,337.16 630.86,337.16 631.79,337.16 632.72,337.16 633.65,337.16 634.58,337.16 635.51,337.16 636.44,337.16 637.37,337.16 638.30,337.16 639.23,337.16 640.16,337.16 641.09,337.16 642.02,337.16 642.95,337.16 643.88,337.16 644.81,337.16 645.74,337.16 646.67,337.16 647.60,337.16 648.54,337.16 649.47,337.16 650.40,337.16 651.33,337.16 652.26,337.16" fill="none" stroke="#4a4a4a" stroke-width="1.05"/>
<circle cx="440.4" cy="489.2" r="1.2" fill="#1f6b35"/>
<circle cx="458.8" cy="487.0" r="1.2" fill="#1f6b35"/>
<circle cx="477.1" cy="479.9" r="1.2" fill="#1f6b35"/>
<circle cx="495.5" cy="419.1" r="1.2" fill="#1f6b35"/>
<circle cx="513.8" cy="373.5" r="1.2" fill="#1f6b35"/>
<circle cx="532.2" cy="342.1" r="1.2" fill="#1f6b35"/>
<circle cx="550.6" cy="341.4" r="1.2" fill="#1f6b35"/>
<circle cx="568.9" cy="334.7" r="1.2" fill="#1f6b35"/>
<circle cx="587.3" cy="340.4" r="1.2" fill="#1f6b35"/>
<circle cx="605.6" cy="336.7" r="1.2" fill="#1f6b35"/>
<circle cx="624.0" cy="338.4" r="1.2" fill="#1f6b35"/>
<circle cx="642.3" cy="334.4" r="1.2" fill="#1f6b35"/>
<rect x="403.7" y="319.1" width="257.0" height="198.5" fill="none" stroke="#707070" stroke-width="1.4"/>
<line x1="403.7" y1="517.6" x2="403.7" y2="520.6" stroke="#707070" stroke-width="1"/>
<line x1="403.7" y1="319.1" x2="403.7" y2="316.1" stroke="#707070" stroke-width="1"/>
<line x1="440.4" y1="517.6" x2="440.4" y2="520.6" stroke="#707070" stroke-width="1"/>
<line x1="440.4" y1="319.1" x2="440.4" y2="316.1" stroke="#707070" stroke-width="1"/>
<line x1="477.1" y1="517.6" x2="477.1" y2="520.6" stroke="#707070" stroke-width="1"/>
<line x1="477.1" y1="319.1" x2="477.1" y2="316.1" stroke="#707070" stroke-width="1"/>
<line x1="513.8" y1="517.6" x2="513.8" y2="520.6" stroke="#707070" stroke-width="1"/>
<line x1="513.8" y1="319.1" x2="513.8" y2="316.1" stroke="#707070" stroke-width="1"/>
<line x1="550.6" y1="517.6" x2="550.6" y2="520.6" stroke="#707070" stroke-width="1"/>
<line x1="550.6" y1="319.1" x2="550.6" y2="316.1" stroke="#707070" stroke-width="1"/>
<line x1="587.3" y1="517.6" x2="587.3" y2="520.6" stroke="#707070" stroke-width="1"/>
<line x1="587.3" y1="319.1" x2="587.3" y2="316.1" stroke="#707070" stroke-width="1"/>
<line x1="624.0" y1="517.6" x2="624.0" y2="520.6" stroke="#707070" stroke-width="1"/>
<line x1="624.0" y1="319.1" x2="624.0" y2="316.1" stroke="#707070" stroke-width="1"/>
<line x1="660.7" y1="517.6" x2="660.7" y2="520.6" stroke="#707070" stroke-width="1"/>
<line x1="660.7" y1="319.1" x2="660.7" y2="316.1" stroke="#707070" stroke-width="1"/>
<line x1="403.7" y1="517.6" x2="400.7" y2="517.6" stroke="#707070" stroke-width="1"/>
<line x1="660.7" y1="517.6" x2="663.7" y2="517.6" stroke="#707070" stroke-width="1"/>
<line x1="403.7" y1="489.2" x2="400.7" y2="489.2" stroke="#707070" stroke-width="1"/>
<line x1="660.7" y1="489.2" x2="663.7" y2="489.2" stroke="#707070" stroke-width="1"/>
<line x1="403.7" y1="460.9" x2="400.7" y2="460.9" stroke="#707070" stroke-width="1"/>
<line x1="660.7" y1="460.9" x2="663.7" y2="460.9" stroke="#707070" stroke-width="1"/>
<line x1="403.7" y1="432.5" x2="400.7" y2="432.5" stroke="#707070" stroke-width="1"/>
<line x1="660.7" y1="432.5" x2="663.7" y2="432.5" stroke="#707070" stroke-width="1"/>
<line x1="403.7" y1="404.2" x2="400.7" y2="404.2" stroke="#707070" stroke-width="1"/>
<line x1="660.7" y1="404.2" x2="663.7" y2="404.2" stroke="#707070" stroke-width="1"/>
<line x1="403.7" y1="375.8" x2="400.7" y2="375.8" stroke="#707070" stroke-width="1"/>
<line x1="660.7" y1="375.8" x2="663.7" y2="375.8" stroke="#707070" stroke-width="1"/>
<line x1="403.7" y1="347.5" x2="400.7" y2="347.5" stroke="#707070" stroke-width="1"/>
<line x1="660.7" y1="347.5" x2="663.7" y2="347.5" stroke="#707070" stroke-width="1"/>
<line x1="403.7" y1="319.1" x2="400.7" y2="319.1" stroke="#707070" stroke-width="1"/>
<line x1="660.7" y1="319.1" x2="663.7" y2="319.1" stroke="#707070" stroke-width="1"/>
<text transform="translate(383.44,521.80) scale(1.060,1)" font-size="13.00" fill="#2a2a2a" stroke="#2a2a2a" stroke-width="0.25">−5</text>
<text transform="translate(391.47,493.44) scale(1.060,1)" font-size="13.00" fill="#2a2a2a" stroke="#2a2a2a" stroke-width="0.25">0</text>
<text transform="translate(391.50,465.09) scale(1.060,1)" font-size="13.00" fill="#2a2a2a" stroke="#2a2a2a" stroke-width="0.25">5</text>
<text transform="translate(383.82,436.73) scale(1.060,1)" font-size="13.00" fill="#2a2a2a" stroke="#2a2a2a" stroke-width="0.25">10</text>
<text transform="translate(383.86,408.37) scale(1.060,1)" font-size="13.00" fill="#2a2a2a" stroke="#2a2a2a" stroke-width="0.25">15</text>
<text transform="translate(383.82,380.01) scale(1.060,1)" font-size="13.00" fill="#2a2a2a" stroke="#2a2a2a" stroke-width="0.25">20</text>
<text transform="translate(383.86,351.66) scale(1.060,1)" font-size="13.00" fill="#2a2a2a" stroke="#2a2a2a" stroke-width="0.25">25</text>
<text transform="translate(383.82,323.30) scale(1.060,1)" font-size="13.00" fill="#2a2a2a" stroke="#2a2a2a" stroke-width="0.25">30</text>
<text transform="translate(396.89,535.20) scale(0.980,1)" font-size="12.20" fill="#2a2a2a" stroke="#2a2a2a" stroke-width="0.25">−2</text>
<text transform="translate(437.08,535.20) scale(0.980,1)" font-size="12.20" fill="#2a2a2a" stroke="#2a2a2a" stroke-width="0.25">0</text>
<text transform="translate(473.81,535.20) scale(0.980,1)" font-size="12.20" fill="#2a2a2a" stroke="#2a2a2a" stroke-width="0.25">2</text>
<text transform="translate(510.55,535.20) scale(0.980,1)" font-size="12.20" fill="#2a2a2a" stroke="#2a2a2a" stroke-width="0.25">4</text>
<text transform="translate(547.19,535.20) scale(0.980,1)" font-size="12.20" fill="#2a2a2a" stroke="#2a2a2a" stroke-width="0.25">6</text>
<text transform="translate(583.95,535.20) scale(0.980,1)" font-size="12.20" fill="#2a2a2a" stroke="#2a2a2a" stroke-width="0.25">8</text>
<text transform="translate(617.13,535.20) scale(0.980,1)" font-size="12.20" fill="#2a2a2a" stroke="#2a2a2a" stroke-width="0.25">10</text>
<text transform="translate(653.91,535.20) scale(0.980,1)" font-size="12.20" fill="#2a2a2a" stroke="#2a2a2a" stroke-width="0.25">12</text>
<text transform="translate(521.14,546.70) scale(1.246,1)" font-size="11.30" font-weight="bold" fill="#000" stroke="#000" stroke-width="0.35">week #</text>
<text transform="translate(408.16,311.00) scale(1.189,1)" font-size="11.60" font-weight="bold" fill="#000" stroke="#000" stroke-width="0.35">% of persistent interactions (HIGH)</text>
<text transform="translate(362.27,303.70) scale(1.191,1)" font-size="21.53" font-weight="bold" fill="#000" stroke="#000" stroke-width="0.4">D</text>
</svg>
</body></html>
